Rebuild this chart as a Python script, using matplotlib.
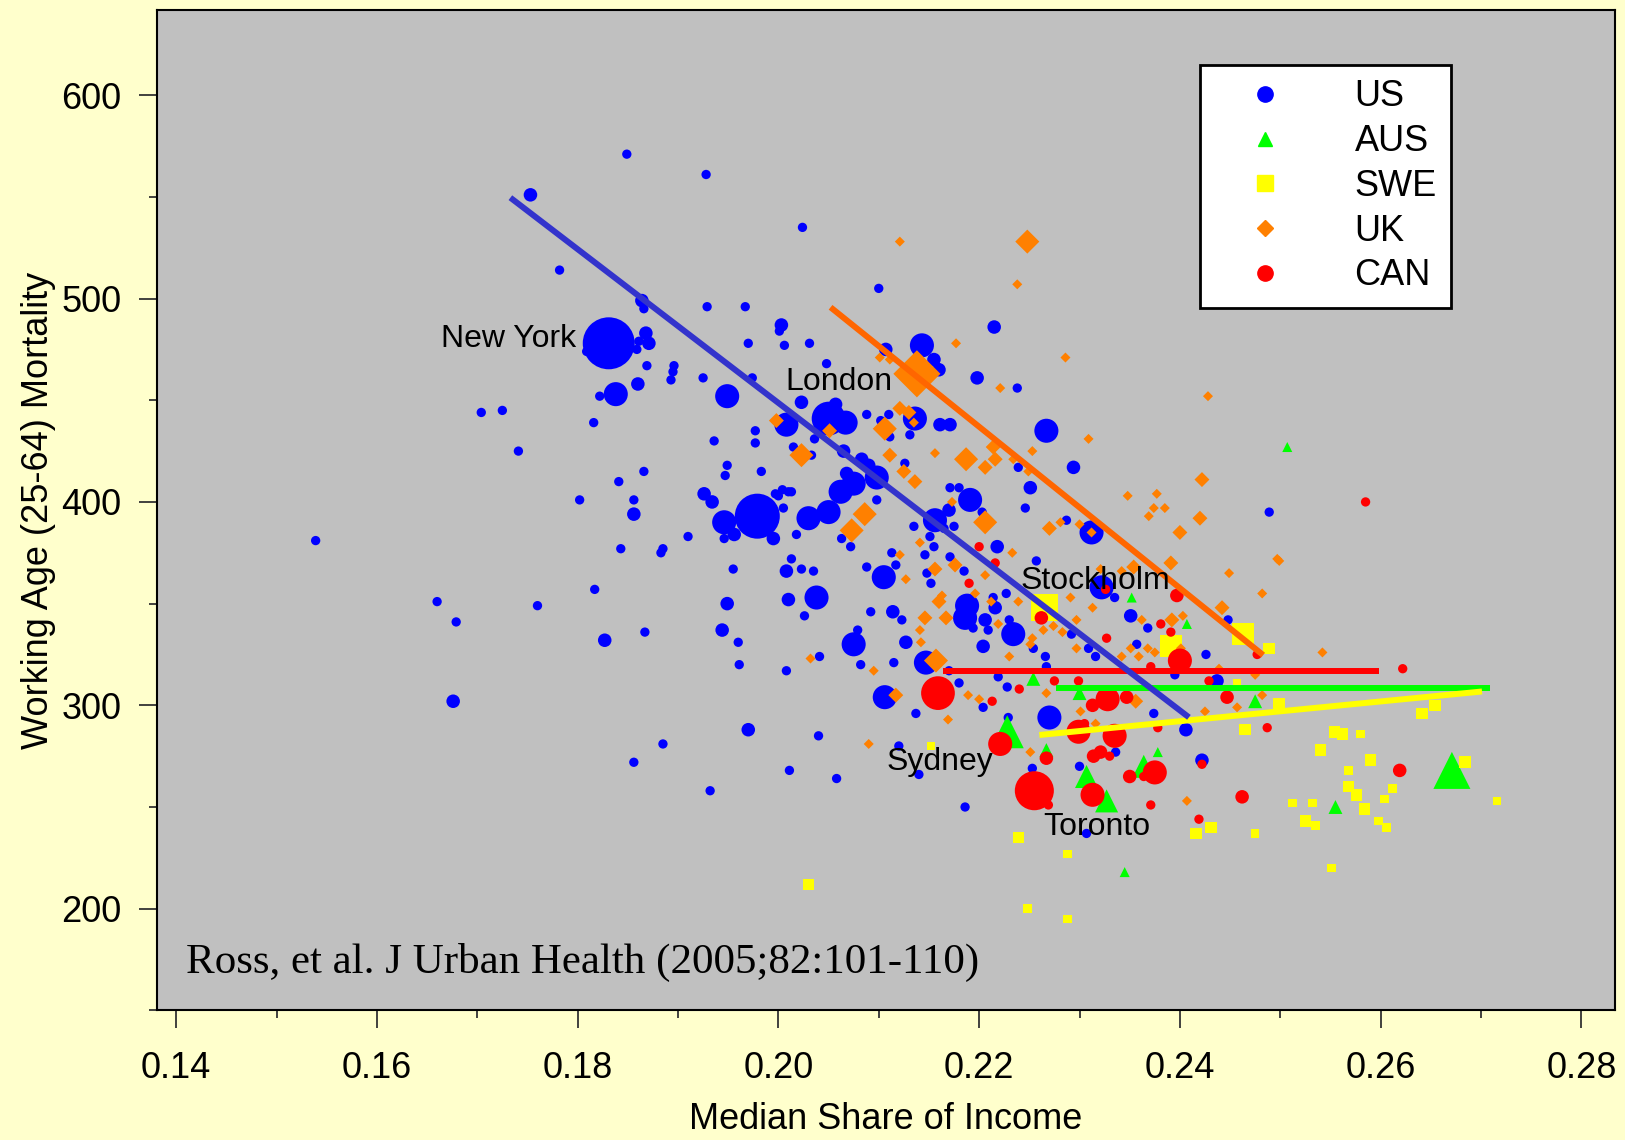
import matplotlib
matplotlib.use("Agg")
import matplotlib.pyplot as plt
from matplotlib.lines import Line2D
import numpy as np

plt.rcParams['font.family'] = ['Liberation Sans', 'DejaVu Sans']

# ---- data: (median share of income, mortality, population class)
us_pts = [
    (0.1753, 551, 2), (0.1849, 571, 1), (0.1928, 561, 1), (0.1782, 514, 1), (0.1864, 499, 2),
    (0.1866, 495, 1), (0.1929, 496, 1), (0.1967, 496, 1), (0.2003, 487, 2), (0.2001, 484, 1),
    (0.1970, 478, 1), (0.2006, 477, 1), (0.1868, 483, 2), (0.1871, 478, 2), (0.1861, 479, 1),
    (0.1809, 474, 1), (0.1859, 475, 1), (0.1869, 467, 1), (0.1896, 467, 1), (0.1895, 464, 1),
    (0.1893, 460, 1), (0.1925, 461, 1), (0.1974, 461, 1), (0.1860, 458, 2), (0.1838, 453, 3),
    (0.1822, 452, 1), (0.1949, 452, 3), (0.1704, 444, 1), (0.1725, 445, 1), (0.1816, 439, 1),
    (0.1741, 425, 1), (0.1936, 430, 1), (0.1977, 435, 1), (0.1977, 429, 1), (0.2008, 438, 3),
    (0.1841, 410, 1), (0.1866, 415, 1), (0.1949, 418, 1), (0.1947, 413, 1), (0.1983, 415, 1),
    (0.1802, 401, 1), (0.1856, 401, 1), (0.1856, 394, 2), (0.1926, 404, 2), (0.1934, 400, 2),
    (0.1946, 390, 3), (0.1979, 393, 6), (0.1956, 384, 2), (0.1946, 382, 1), (0.1995, 382, 2),
    (0.1910, 383, 1), (0.2000, 403, 1), (0.2010, 405, 1), (0.1843, 377, 1), (0.1885, 377, 1),
    (0.1883, 375, 1), (0.1539, 381, 1), (0.1831, 478, 7),
    (0.1660, 351, 1), (0.1679, 341, 1), (0.1676, 302, 2), (0.1760, 349, 1), (0.1817, 357, 1),
    (0.1827, 332, 2), (0.1867, 336, 1), (0.1955, 367, 1), (0.1949, 350, 2), (0.1944, 337, 2),
    (0.1960, 331, 1), (0.1961, 320, 1), (0.2008, 366, 2), (0.2010, 352, 2), (0.2008, 317, 1),
    (0.1970, 288, 2), (0.1885, 281, 1), (0.1856, 272, 1), (0.2011, 268, 1), (0.1932, 258, 1),
    (0.2031, 478, 1), (0.2048, 468, 1), (0.2215, 486, 2), (0.2143, 477, 3), (0.2155, 470, 2),
    (0.2160, 465, 2), (0.2198, 461, 2), (0.2107, 475, 2), (0.2238, 456, 1), (0.2023, 449, 2),
    (0.2057, 448, 2), (0.2050, 441, 4), (0.2067, 439, 3), (0.2088, 443, 1), (0.2102, 440, 1),
    (0.2110, 443, 1), (0.2136, 441, 3), (0.2161, 438, 2), (0.2171, 438, 2), (0.2131, 433, 1),
    (0.2111, 432, 1), (0.2036, 431, 1), (0.2015, 427, 1), (0.2033, 423, 1), (0.2065, 425, 2),
    (0.2083, 421, 2), (0.2090, 418, 2), (0.2126, 419, 1), (0.2068, 414, 2), (0.2098, 412, 3),
    (0.2075, 409, 3), (0.2062, 405, 3), (0.2004, 406, 1), (0.1997, 404, 1), (0.2013, 405, 1),
    (0.2005, 397, 1), (0.2030, 392, 3), (0.2050, 395, 3), (0.2018, 384, 1), (0.2098, 401, 1),
    (0.2171, 407, 1), (0.2180, 407, 1), (0.2191, 401, 3), (0.2170, 396, 2), (0.2203, 395, 1),
    (0.2156, 391, 3), (0.2165, 387, 1), (0.2175, 388, 1), (0.2135, 388, 1), (0.2151, 383, 1),
    (0.2155, 378, 1), (0.2146, 374, 1), (0.2171, 373, 1), (0.2218, 378, 2), (0.2063, 382, 1),
    (0.2072, 378, 1), (0.2113, 375, 1), (0.2117, 369, 1), (0.2013, 372, 1), (0.2023, 367, 1),
    (0.2035, 366, 1), (0.2088, 368, 1), (0.2239, 417, 1),
    (0.2038, 353, 3), (0.2026, 344, 1), (0.2105, 363, 3), (0.2148, 365, 1), (0.2152, 360, 1),
    (0.2185, 366, 1), (0.2188, 349, 3), (0.2186, 343, 3), (0.2194, 338, 1), (0.2206, 342, 2),
    (0.2214, 353, 1), (0.2216, 348, 2), (0.2227, 355, 1), (0.2230, 342, 1), (0.2209, 337, 1),
    (0.2234, 335, 3), (0.2204, 329, 2), (0.2114, 346, 2), (0.2123, 342, 1), (0.2092, 346, 1),
    (0.2075, 330, 3), (0.2079, 337, 1), (0.2127, 331, 2), (0.2041, 324, 1), (0.2082, 320, 1),
    (0.2115, 321, 1), (0.2147, 321, 3), (0.2170, 317, 1), (0.2219, 314, 1), (0.2228, 309, 1),
    (0.2180, 311, 1), (0.2106, 304, 3), (0.2137, 296, 1), (0.2204, 299, 1), (0.2229, 294, 1),
    (0.2040, 285, 1), (0.2120, 280, 1), (0.2140, 266, 1), (0.2058, 264, 1), (0.2186, 250, 1),
    (0.2335, 353, 1), (0.2351, 344, 2), (0.2368, 338, 1), (0.2254, 328, 1), (0.2266, 324, 1),
    (0.2292, 335, 1), (0.2309, 328, 1), (0.2316, 324, 1), (0.2357, 330, 1), (0.2426, 325, 1),
    (0.2448, 342, 1), (0.2395, 315, 1), (0.2437, 312, 2), (0.2267, 319, 1), (0.2374, 296, 1),
    (0.2406, 288, 2), (0.2270, 294, 3), (0.2336, 277, 1), (0.2253, 269, 1), (0.2300, 270, 1),
    (0.2422, 273, 2), (0.2307, 237, 1), (0.2322, 358, 3),
    (0.2267, 435, 3), (0.2294, 417, 2), (0.2251, 407, 2), (0.2246, 397, 1), (0.2489, 395, 1),
    (0.2287, 391, 1), (0.2312, 385, 3), (0.2257, 371, 1), (0.2024, 535, 1), (0.2100, 505, 1),
]

aus_pts = [
    (0.2352, 353, 1), (0.2407, 340, 1), (0.2254, 313, 2), (0.2300, 306, 2), (0.2228, 287, 4),
    (0.2267, 278, 2), (0.2378, 277, 1), (0.2364, 270, 3), (0.2307, 265, 3), (0.2327, 253, 3),
    (0.2475, 302, 2), (0.2507, 427, 1), (0.2671, 268, 5), (0.2555, 250, 2), (0.2345, 218, 1),
]

swe_pts = [
    (0.2030, 212, 2), (0.2248, 200, 1), (0.2288, 195, 1), (0.2288, 227, 1), (0.2239, 235, 2),
    (0.2551, 220, 1), (0.2475, 237, 1), (0.2431, 240, 2), (0.2416, 237, 2), (0.2465, 288, 2),
    (0.2499, 301, 2), (0.2641, 296, 2), (0.2654, 300, 2), (0.2716, 253, 1), (0.2684, 272, 2),
    (0.2540, 278, 2), (0.2512, 252, 1), (0.2532, 252, 1), (0.2525, 243, 2), (0.2535, 241, 1),
    (0.2554, 287, 2), (0.2562, 286, 2), (0.2580, 286, 1), (0.2568, 268, 1), (0.2590, 273, 2),
    (0.2568, 260, 2), (0.2576, 256, 2), (0.2612, 259, 1), (0.2604, 254, 1), (0.2584, 249, 2),
    (0.2598, 243, 1), (0.2606, 240, 1), (0.2265, 348, 4), (0.2391, 329, 3), (0.2463, 335, 3),
    (0.2489, 328, 2), (0.2457, 311, 1), (0.2152, 280, 1),
]

uk_pts = [
    (0.2121, 528, 1), (0.2248, 528, 3), (0.2238, 507, 1), (0.2177, 478, 1), (0.2286, 471, 1),
    (0.2221, 456, 1), (0.2428, 452, 1), (0.2138, 463, 4), (0.2101, 471, 1), (0.2111, 470, 1),
    (0.1998, 440, 2), (0.2051, 435, 2), (0.2106, 436, 3), (0.2121, 446, 2), (0.2130, 444, 2),
    (0.2135, 439, 1), (0.2023, 423, 3), (0.2111, 423, 2), (0.2156, 424, 1), (0.2187, 421, 3),
    (0.2206, 417, 2), (0.2216, 421, 2), (0.2214, 427, 2), (0.2125, 415, 2), (0.2136, 410, 2),
    (0.2173, 400, 1), (0.2206, 390, 3), (0.2086, 394, 3), (0.2073, 386, 3), (0.2141, 380, 1),
    (0.2121, 374, 1), (0.2233, 375, 1), (0.2156, 367, 2), (0.2176, 369, 2), (0.2309, 431, 1),
    (0.2253, 425, 1), (0.2234, 421, 1), (0.2249, 415, 1), (0.2422, 411, 2), (0.2348, 403, 1),
    (0.2377, 404, 1), (0.2374, 397, 1), (0.2385, 397, 1), (0.2369, 393, 1), (0.2420, 392, 2),
    (0.2400, 385, 2), (0.2281, 390, 1), (0.2270, 387, 2), (0.2300, 389, 1), (0.2312, 385, 1),
    (0.2391, 370, 2), (0.2449, 365, 1), (0.2497, 372, 1), (0.2354, 368, 2), (0.2342, 366, 1),
    (0.2321, 367, 1), (0.2127, 362, 1), (0.2163, 354, 1), (0.2160, 351, 2), (0.2167, 343, 2),
    (0.2146, 343, 2), (0.2141, 337, 1), (0.2142, 331, 1), (0.2206, 364, 1), (0.2196, 355, 1),
    (0.2212, 351, 1), (0.2219, 340, 1), (0.2230, 324, 1), (0.2032, 323, 1), (0.2095, 317, 1),
    (0.2157, 322, 3), (0.2117, 305, 2), (0.2189, 305, 1), (0.2200, 303, 1), (0.2169, 293, 1),
    (0.2090, 281, 1), (0.2482, 355, 1), (0.2442, 348, 2), (0.2403, 344, 1), (0.2392, 342, 2),
    (0.2362, 342, 1), (0.2239, 351, 1), (0.2291, 353, 1), (0.2313, 348, 1), (0.2297, 342, 1),
    (0.2274, 339, 1), (0.2264, 337, 1), (0.2283, 336, 1), (0.2253, 333, 1), (0.2251, 330, 1),
    (0.2297, 328, 1), (0.2342, 324, 1), (0.2351, 328, 1), (0.2359, 324, 1), (0.2368, 328, 1),
    (0.2375, 326, 1), (0.2401, 328, 1), (0.2439, 318, 1), (0.2475, 315, 1), (0.2267, 306, 1),
    (0.2356, 302, 2), (0.2301, 297, 1), (0.2316, 291, 1), (0.2425, 297, 1), (0.2457, 299, 1),
    (0.2482, 305, 1), (0.2251, 277, 1), (0.2407, 253, 1), (0.2542, 326, 1), (0.2499, 371, 1),
]

can_pts = [
    (0.2159, 306, 4), (0.2221, 281, 3), (0.2255, 258, 5), (0.2262, 343, 2), (0.2326, 357, 1),
    (0.2397, 354, 2), (0.2381, 340, 1), (0.2391, 336, 1), (0.2327, 333, 1), (0.2400, 322, 3),
    (0.2371, 319, 1), (0.2477, 325, 1), (0.2429, 312, 1), (0.2447, 304, 2), (0.2299, 312, 1),
    (0.2275, 312, 1), (0.2240, 308, 1), (0.2328, 303, 3), (0.2347, 304, 2), (0.2313, 300, 2),
    (0.2299, 287, 3), (0.2335, 285, 3), (0.2305, 291, 1), (0.2378, 289, 1), (0.2487, 289, 1),
    (0.2267, 274, 2), (0.2314, 275, 2), (0.2321, 277, 2), (0.2330, 275, 1), (0.2350, 265, 2),
    (0.2364, 265, 1), (0.2375, 267, 3), (0.2422, 271, 1), (0.2269, 251, 1), (0.2313, 256, 3),
    (0.2371, 251, 1), (0.2462, 255, 2), (0.2419, 244, 1), (0.2622, 318, 1), (0.2619, 268, 2),
    (0.2585, 400, 1), (0.2200, 378, 1), (0.2216, 370, 1), (0.2190, 360, 1), (0.2213, 302, 1),
]

# fitted lines (end points)
us_fit_x, us_fit_y = [0.1733, 0.2409], [549.6, 294.1]
uk_fit_x, uk_fit_y = [0.2052, 0.2483], [495.7, 324.7]
can_fit_x, can_fit_y = [0.2164, 0.2598], [316.8, 316.8]
aus_fit_x, aus_fit_y = [0.2277, 0.2709], [308.7, 308.7]
swe_fit_x, swe_fit_y = [0.2260, 0.2701], [285.4, 306.8]

cities = ["New York", "London", "Stockholm", "Sydney", "Toronto"]
city_x = [0.1664, 0.2007, 0.2241, 0.2108, 0.2264]
city_y = [480, 459, 361, 272, 240]

# ---- plot
fig = plt.figure(figsize=(16.25, 11.4), dpi=100, facecolor='#FFFFCC')
ax = fig.add_axes([0.0969, 0.1137, 0.8967, 0.8772])
ax.set_facecolor('#C0C0C0')

circle_area = {1: 45, 2: 95, 3: 300, 4: 590, 5: 790, 6: 1050, 7: 1400}
square_area = {1: 37, 2: 69, 3: 250, 4: 378}
diamond_area = {1: 26, 2: 58, 3: 150, 4: 575}
tri_area = {1: 52, 2: 100, 3: 275, 4: 565, 5: 710}

series = [
    (us_pts, 'o', '#0000FF', circle_area, 2),
    (aus_pts, '^', '#00FF00', tri_area, 3),
    (swe_pts, 's', '#FFFF00', square_area, 4),
    (uk_pts, 'D', '#FF8000', diamond_area, 5),
    (can_pts, 'o', '#FF0000', circle_area, 6),
]
for pts, mk, col, areas, z in series:
    arr = np.array(pts)
    ax.scatter(arr[:, 0], arr[:, 1], s=[areas[int(c)] for c in arr[:, 2]],
               marker=mk, color=col, linewidths=0, zorder=z)

ax.plot(us_fit_x, us_fit_y, color='#3333CC', lw=4.3, zorder=8, solid_capstyle='butt')
ax.plot(uk_fit_x, uk_fit_y, color='#FF6600', lw=4.3, zorder=8, solid_capstyle='butt')
ax.plot(can_fit_x, can_fit_y, color='#FF0000', lw=4.3, zorder=7, solid_capstyle='butt')
ax.plot(aus_fit_x, aus_fit_y, color='#00FF00', lw=4.3, zorder=7, solid_capstyle='butt')
ax.plot(swe_fit_x, swe_fit_y, color='#FFFF00', lw=4.3, zorder=7, solid_capstyle='butt')

for name, cx, cy in zip(cities, city_x, city_y):
    ax.text(cx, cy, name, fontsize=23, ha='left', va='center', zorder=10)

ax.text(0.1410, 173.5, "Ross, et al. J Urban Health (2005;82:101-110)",
        fontsize=31, family=['Liberation Serif', 'DejaVu Serif'], va='center', zorder=10)

ax.set_xlim(0.13814, 0.28331)
ax.set_ylim(150.6, 641.7)
ax.set_xticks(np.arange(0.14, 0.2801, 0.02))
ax.set_xticklabels(["%.2f" % v for v in np.arange(0.14, 0.2801, 0.02)])
ax.set_xticks(np.arange(0.15, 0.28, 0.02), minor=True)
ax.set_yticks([200, 300, 400, 500, 600])
ax.set_yticks([150, 250, 350, 450, 550], minor=True)

ax.tick_params(which='both', direction='out', color='#333333', width=1.3, labelsize=26)
ax.tick_params(which='major', length=13)
ax.tick_params(which='minor', length=6)
ax.tick_params(axis='x', which='major', pad=16.5)
ax.tick_params(axis='y', which='major', pad=13)
for sp in ax.spines.values():
    sp.set_linewidth(1.5)
    sp.set_color('black')

ax.set_xlabel("Median Share of Income", fontsize=26, labelpad=11.5)
ax.set_ylabel("Working Age (25-64) Mortality", fontsize=26, labelpad=4)

handles = [
    Line2D([], [], ls='', marker='o', color='#0000FF', ms=11),
    Line2D([], [], ls='', marker='^', color='#00FF00', ms=10),
    Line2D([], [], ls='', marker='s', color='#FFFF00', ms=11),
    Line2D([], [], ls='', marker='D', color='#FF8000', ms=8),
    Line2D([], [], ls='', marker='o', color='#FF0000', ms=11),
]
leg = ax.legend(handles, ["US", "AUS", "SWE", "UK", "CAN"], loc='upper left',
                bbox_to_anchor=(0.7155, 0.9454), fontsize=26, frameon=True,
                fancybox=False, framealpha=1, edgecolor='black', facecolor='white',
                borderpad=0.4, handlelength=2.8, handletextpad=1.08, labelspacing=0.27,
                borderaxespad=0)
leg.get_frame().set_linewidth(2)
leg.set_zorder(20)

fig.savefig("out.png", dpi=100, facecolor=fig.get_facecolor())
